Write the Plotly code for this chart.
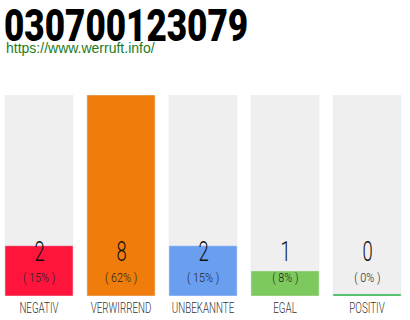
import plotly.graph_objects as go

title = "030700123079"
url = "https://www.werruft.info/"
categories = ["NEGATIV", "VERWIRREND", "UNBEKANNTE", "EGAL", "POSITIV"]
values = [2, 8, 2, 1, 0]
percents = ["( 15% )", "( 62% )", "( 15% )", "( 8% )", "( 0% )"]
colors = ["#ff143c", "#f07c0c", "#6a9eee", "#7dc95e", "#2db34a"]
bg_color = "#efefef"

xs = list(range(len(categories)))
ymax = max(values)
font = "Roboto"

fig = go.Figure()
fig.add_trace(go.Bar(x=xs, y=[ymax] * len(xs), marker_color=bg_color, width=0.83,
                     hoverinfo="skip", showlegend=False))
fig.add_trace(go.Bar(x=xs, y=[v if v > 0 else 0.08 for v in values], marker_color=colors,
                     width=0.83, showlegend=False))

for i, (v, p) in enumerate(zip(values, percents)):
    fig.add_annotation(x=i, y=0, xref="x", yref="y", text=str(v), showarrow=False,
                       yanchor="middle", yshift=44,
                       font=dict(family=font, size=27, color="#111", weight=300))
    fig.add_annotation(x=i, y=0, xref="x", yref="y", text=p, showarrow=False,
                       yanchor="middle", yshift=19,
                       font=dict(family=font, size=13.5, color="#222", weight=300))

fig.add_annotation(x=0, y=1, xref="paper", yref="paper", xshift=2, yshift=98, text=title,
                   showarrow=False, xanchor="left", yanchor="top", align="left",
                   font=dict(family=font, size=45, color="#000", weight=900))
fig.add_annotation(x=0, y=1, xref="paper", yref="paper", xshift=4, yshift=57, text=url,
                   showarrow=False, xanchor="left", yanchor="top", align="left",
                   font=dict(family="Liberation Sans, Arial, sans-serif", size=14, color="#1e7b1e"))

fig.update_layout(
    width=410, height=320, margin=dict(l=0, r=0, t=95, b=24),
    paper_bgcolor="white", plot_bgcolor="white", barmode="overlay",
    xaxis=dict(range=[-0.4756, 4.524], tickvals=xs, ticktext=categories, showgrid=False,
               zeroline=False, showline=False, ticks="", tickangle=0, automargin=False,
               ticklabelstandoff=2,
               tickfont=dict(family=font, size=13.8, color="#333", weight=300)),
    yaxis=dict(range=[0, ymax], visible=False, showgrid=False, zeroline=False),
)

# horizontally condense text glyphs (reference uses a condensed typeface)
post = """
var gd = document.getElementById('{plot_id}');
var factors = {'45px': 0.78, '27px': 0.68, '13.5px': 0.8, '13.8px': 0.71};
gd.querySelectorAll('text').forEach(function(t){
  var f = factors[t.style.fontSize];
  if (!f) return;
  var L = t.getComputedTextLength();
  t.setAttribute('textLength', (L * f).toFixed(2));
  t.setAttribute('lengthAdjust', 'spacingAndGlyphs');
});
"""
fig.write_html("out.html", post_script=post)
